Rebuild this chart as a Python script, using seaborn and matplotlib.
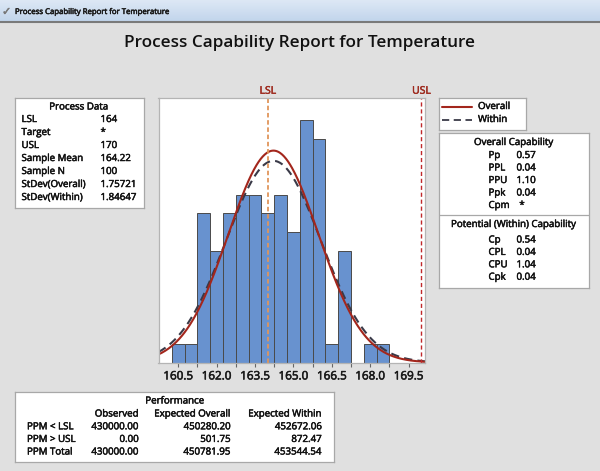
import numpy as np
import pandas as pd
import seaborn as sns
import matplotlib
matplotlib.use("Agg")
import matplotlib.pyplot as plt
from matplotlib.lines import Line2D
import matplotlib.patheffects as pe

# ---------------- data ----------------
title = "Process Capability Report for Temperature"
lsl, usl = 164.0, 170.0
sample_mean = 164.22
sample_n = 100
sd_overall = 1.75721
sd_within = 1.84647

bin_edges = [160.25 + 0.5 * i for i in range(18)]
bin_counts = [1, 1, 8, 6, 8, 9, 9, 8, 9, 7, 13, 12, 1, 6, 0, 1, 1]
tick_values = [160.5, 162.0, 163.5, 165.0, 166.5, 168.0, 169.5]
tick_labels = ["160.5", "162.0", "163.5", "165.0", "166.5", "168.0", "169.5"]

pd_labels = ["LSL", "Target", "USL", "Sample Mean", "Sample N", "StDev(Overall)", "StDev(Within)"]
pd_values = ["164", "*", "170", "164.22", "100", "1.75721", "1.84647"]

overall_labels = ["Pp", "PPL", "PPU", "Ppk", "Cpm"]
overall_values = ["0.57", "0.04", "1.10", "0.04", "*"]
within_labels = ["Cp", "CPL", "CPU", "Cpk"]
within_values = ["0.54", "0.04", "1.04", "0.04"]

perf_rows = ["PPM < LSL", "PPM > USL", "PPM Total"]
perf_cols = ["Observed", "Expected Overall", "Expected Within"]
perf_observed = ["430000.00", "0.00", "430000.00"]
perf_exp_overall = ["450280.20", "501.75", "450781.95"]
perf_exp_within = ["452672.06", "872.47", "453544.54"]

# ---------------- style ----------------
sns.set_theme(style="white")
plt.rcParams["font.family"] = ["Open Sans", "DejaVu Sans"]

W, H = 600, 471
BG = "#e0e0e0"
BAR = "#6892cf"
EDGE = "#4a4a4a"
RED = "#a3261c"
LABEL_RED = "#9e2a1e"
FS = 7
TXT = "#111111"


def bold_fx(color, lw=0.35):
    return [pe.withStroke(linewidth=lw, foreground=color)]


fig = plt.figure(figsize=(W / 100, H / 100), dpi=100)
fig.patch.set_facecolor(BG)


def ftext(x, y, s, **kw):
    kw.setdefault("va", "center")
    kw.setdefault("fontsize", FS)
    kw.setdefault("color", TXT)
    kw.setdefault("path_effects", bold_fx(kw["color"]))
    fig.text(x / W, 1 - y / H, s, **kw)


def box(l, t, r, b):
    ax = fig.add_axes([l / W, 1 - b / H, (r - l) / W, (b - t) / H])
    ax.set_xlim(l, r)
    ax.set_ylim(b, t)
    ax.set_xticks([])
    ax.set_yticks([])
    ax.set_facecolor("white")
    for sp in ax.spines.values():
        sp.set_color("#a8a8a8")
        sp.set_linewidth(0.9)
    return ax


# ---- window title bar ----
tb = fig.add_axes([0, 1 - 21 / H, 1, 21 / H])
grad = np.linspace(0, 1, 50).reshape(-1, 1)
cmap = matplotlib.colors.LinearSegmentedColormap.from_list("tb", ["#dde8f5", "#c2d5ec"])
tb.imshow(grad, aspect="auto", cmap=cmap, extent=[0, 1, 0, 1])
tb.set_axis_off()
fig.add_artist(Line2D([0, 1], [1 - 21.5 / H, 1 - 21.5 / H], color="#7a7a7a", lw=1.5))
ftext(2, 12, "\u2713", fontsize=8, color="#777777", family=["DejaVu Sans"])
ftext(15, 12.5, title, fontsize=5.6, color="#1a1a1a")

# ---- main title ----
ftext(300, 43, title, fontsize=12.3, fontweight="semibold", ha="center", color="#111111",
      path_effects=[])

# ---- histogram axes ----
ax_l, ax_r, ax_t, ax_b = 158.5, 425, 98, 362.5
ax = fig.add_axes([ax_l / W, 1 - ax_b / H, (ax_r - ax_l) / W, (ax_b - ax_t) / H])
centers = [(bin_edges[i] + bin_edges[i + 1]) / 2 for i in range(len(bin_counts))]
hist_df = pd.DataFrame({"x": centers, "w": bin_counts})
sns.histplot(data=hist_df, x="x", weights="w", bins=bin_edges, ax=ax,
             color=BAR, edgecolor=EDGE, linewidth=0.7, alpha=1.0)

xmin, xmax = 159.73, 170.14
bw = bin_edges[1] - bin_edges[0]
xs = np.linspace(xmin, xmax, 400)


def npdf(x, m, s):
    return np.exp(-0.5 * ((x - m) / s) ** 2) / (s * np.sqrt(2 * np.pi))


curve_df = pd.DataFrame({
    "x": xs,
    "overall": sample_n * bw * npdf(xs, sample_mean, sd_overall),
    "within": sample_n * bw * npdf(xs, sample_mean, sd_within),
})
sns.lineplot(data=curve_df, x="x", y="within", ax=ax, color="#3a3a48", lw=1.5,
             dashes=False, linestyle=(0, (4, 2.5)))
sns.lineplot(data=curve_df, x="x", y="overall", ax=ax, color=RED, lw=1.5)

ax.axvline(lsl, color="#e0955a", lw=1.3, linestyle=(0, (2.5, 1.5)))
ax.axvline(usl, color="#c0282a", lw=1.0, linestyle=(0, (3, 2)))
ax.set_xlim(xmin, xmax)
ax.set_ylim(0, 14.17)
ax.set_facecolor("white")
ax.set_xlabel("")
ax.set_ylabel("")
ax.set_yticks([])
ax.set_xticks(tick_values)
ax.set_xticklabels(tick_labels, fontsize=8.4, color="#1a1a1a")
for tl in ax.get_xticklabels():
    tl.set_path_effects(bold_fx("#1a1a1a", 0.4))
ax.set_xticks([v + 0.75 for v in tick_values[:-1]], minor=True)
ax.tick_params(axis="x", which="both", direction="out", length=3, width=0.8,
               color="#666666", bottom=True, pad=2)
for sp in ax.spines.values():
    sp.set_color("#b4b4b4")
    sp.set_linewidth(0.9)

ax.text(lsl, 1.005, "LSL", transform=ax.get_xaxis_transform(), ha="center", va="bottom",
        fontsize=7.5, color=LABEL_RED, path_effects=bold_fx(LABEL_RED))
ax.text(usl, 1.005, "USL", transform=ax.get_xaxis_transform(), ha="center", va="bottom",
        fontsize=7.5, color=LABEL_RED, path_effects=bold_fx(LABEL_RED))

# ---- process data box ----
box(15, 97.5, 144, 207.5)
ftext(79, 107, "Process Data", ha="center")
for i, (lab, val) in enumerate(zip(pd_labels, pd_values)):
    y = 119.5 + i * 13.0
    ftext(21.5, y, lab)
    ftext(100.5, y, val)

# ---- legend box ----
lg = box(439, 97.5, 526, 129.5)
lg.plot([442, 472], [106.5, 106.5], color=RED, lw=1.5)
lg.plot([442, 472], [119.5, 119.5], color="#3a3a48", lw=1.3, linestyle=(0, (4, 2.5)))
ftext(478, 106.5, "Overall")
ftext(478, 119.5, "Within")

# ---- capability box ----
cb = box(439, 132.5, 589, 288)
cb.axhline(214.5, color="#a8a8a8", lw=0.9)
ftext(514, 142.5, "Overall Capability", ha="center")
for i, (lab, val) in enumerate(zip(overall_labels, overall_values)):
    y = 155.5 + i * 12.5
    ftext(488.5, y, lab)
    if val == "*":
        ftext(522, y, val, ha="center")
    else:
        ftext(516.5, y, val)
ftext(514, 224.5, "Potential (Within) Capability", ha="center")
for i, (lab, val) in enumerate(zip(within_labels, within_values)):
    y = 240 + i * 12.4
    ftext(488.5, y, lab)
    ftext(516.5, y, val)

# ---- performance box ----
box(15, 392, 334, 462)
ftext(175, 401, "Performance", ha="center")
col_right = [139, 231, 322]
for c, name in zip(col_right, perf_cols):
    ftext(c, 414, name, ha="right")
for i, lab in enumerate(perf_rows):
    y = 426.8 + i * 12.6
    ftext(27, y, lab)
    ftext(col_right[0], y, perf_observed[i], ha="right")
    ftext(col_right[1], y, perf_exp_overall[i], ha="right")
    ftext(col_right[2], y, perf_exp_within[i], ha="right")

fig.savefig("out.png", dpi=100, facecolor=fig.get_facecolor())
